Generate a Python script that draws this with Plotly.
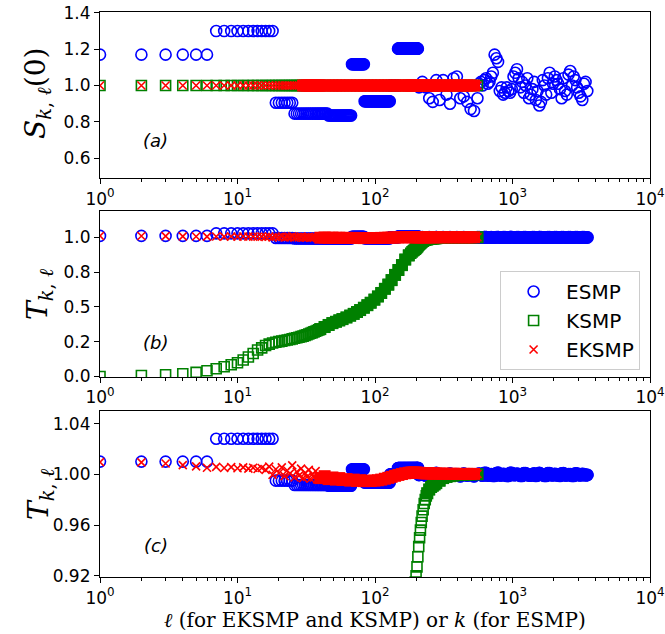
import plotly.graph_objects as go

# ---------------- data ----------------
# ESMP: index k ; k = 1..205 individually, then sampled k
esmp_k = list(range(1, 206)) + [
    209, 221, 234, 248, 263, 279, 295, 313, 331, 351, 372, 394, 417, 442, 468, 496, 525,
    556, 589, 624, 661, 700, 741, 785, 832, 881, 933, 988, 1047, 1109, 1175, 1245, 1318,
    1396, 1479, 1567, 1660, 1758, 1862, 1972, 2089, 2213, 2344, 2483, 2630, 2786, 2951,
    3126, 3311, 3500,
    572, 606, 642, 680, 720, 763, 808, 856, 907, 960, 1017, 1078, 1142, 1210, 1281, 1357,
    1437, 1522, 1612, 1708, 1809, 1916, 2030, 2150, 2277, 2412, 2555, 2707, 2867, 3037,
    3217, 3400]

# S_{k,l}(0) for ESMP (runs of constant value for k<=205, then scattered)
esmp_S = ([1.17] * 6 + [1.30] * 12 + [0.905] * 7 + [0.845] * 20 + [0.835] * 22 +
          [1.117] * 16 + [0.913] * 45 + [1.0] * 18 + [1.203] * 59) + [
    0.99, 1.02, 0.99, 0.93, 0.91, 1.03, 0.92, 1.03, 0.95, 0.90, 1.04, 1.05, 0.93, 0.94,
    0.91, 0.87, 0.86, 0.93, 1.02, 1.03, 1.01, 1.05, 1.17, 1.13, 0.99, 0.96, 0.97, 0.98,
    1.07, 1.04, 1.02, 1.00, 0.93, 0.98, 0.92, 0.89, 1.03, 0.95, 1.07, 1.01, 1.03, 0.98,
    1.04, 0.95, 1.08, 1.05, 0.99, 0.94, 1.01, 0.97,
    1.01, 1.00, 1.04, 1.02, 1.07, 1.15, 0.97, 0.95, 0.99, 0.96, 1.05, 1.09, 0.99, 0.96,
    1.04, 0.95, 1.02, 0.97, 0.91, 1.00, 1.04, 0.96, 1.05, 1.01, 0.93, 0.97, 1.06, 1.00,
    1.03, 0.96, 0.92, 1.02]

# T_{k,l} for ESMP
esmp_T = ([1.010] * 6 + [1.028] * 12 + [0.995] * 7 + [0.9915] * 20 + [0.991] * 22 +
          [1.004] * 16 + [0.9935] * 45 + [1.000] * 18 + [1.005] * 59) + [
    0.9995, 1.0005, 0.9990, 1.0000, 0.9985, 1.0010, 0.9990, 1.0000, 0.9985, 1.0005,
    0.9990, 1.0000, 0.9985, 1.0005, 0.9990, 0.9995, 0.9985, 1.0000, 0.9995, 1.0010,
    0.9990, 1.0000, 0.9988, 1.0012, 0.9992, 1.0000, 0.9988, 1.0010, 0.9995, 1.0000,
    0.9988, 1.0008, 0.9992, 1.0000, 0.9988, 1.0010, 0.9995, 0.9988, 1.0008, 0.9992,
    1.0000, 0.9988, 1.0008, 0.9992, 1.0000, 0.9988, 1.0005, 0.9992, 1.0000, 0.9995,
    1.0005, 0.9990, 1.0010, 0.9995, 0.9988, 1.0008, 0.9992, 1.0002, 0.9988, 1.0010,
    0.9994, 1.0004, 0.9988, 1.0008, 0.9995, 0.9990, 1.0006, 0.9992, 1.0003, 0.9988,
    1.0008, 0.9994, 1.0002, 0.9990, 1.0006, 0.9992, 1.0000, 0.9988, 1.0006, 0.9994,
    1.0002, 0.9992]

# KSMP / EKSMP: index l
ell = list(range(1, 41)) + [
    43, 46, 49, 52, 55, 58, 62, 66, 70, 74, 78, 83, 88, 93, 99, 105, 111, 118, 125, 132,
    140, 148, 157, 166, 176, 182, 186, 190, 193, 196, 199, 202, 205, 208, 211, 214, 217,
    220, 224, 228, 232, 236, 240, 248, 256, 263, 271, 279, 295, 313, 331, 351, 372, 394,
    417, 442, 468, 496, 525, 556]

ksmp_S = [1.0] * len(ell)
eksmp_S = [1.0] * len(ell)

ksmp_T = [
    0.000, 0.007, 0.012, 0.019, 0.029, 0.041, 0.055, 0.070, 0.084, 0.098,
    0.118, 0.140, 0.165, 0.190, 0.205, 0.222, 0.232, 0.240, 0.246, 0.250,
    0.254, 0.258, 0.262, 0.266, 0.270, 0.274, 0.278, 0.282, 0.286, 0.290,
    0.295, 0.300, 0.305, 0.310, 0.315, 0.320, 0.325, 0.330, 0.335, 0.340,
    0.355, 0.370, 0.383, 0.393, 0.403, 0.412, 0.424, 0.437, 0.450, 0.463,
    0.477, 0.494, 0.512, 0.530, 0.552, 0.575, 0.600, 0.630, 0.660, 0.692,
    0.730, 0.765, 0.800, 0.840, 0.870, 0.885, 0.895, 0.903, 0.909, 0.915,
    0.920, 0.927, 0.935, 0.943, 0.950, 0.956, 0.962, 0.967, 0.972, 0.977,
    0.980, 0.983, 0.985, 0.988, 0.990, 0.991, 0.992, 0.993, 0.995, 0.997,
    0.998, 0.9985, 0.999, 0.9993, 0.9995, 0.9997, 0.9998, 0.9999, 1.000, 1.000]

eksmp_T = [
    1.0096, 1.0094, 1.0085, 1.0072, 1.0062, 1.0052, 1.0058, 1.0050, 1.0056, 1.0048,
    1.0055, 1.0045, 1.0052, 1.0042, 1.0050, 1.0035, 1.0060, 0.9995, 1.0040, 1.0010,
    1.0055, 0.9985, 1.0030, 1.0005, 1.0070, 0.9975, 1.0020, 0.9990, 1.0045, 0.9970,
    1.0010, 0.9980, 1.0035, 0.9965, 1.0000, 0.9975, 1.0025, 0.9960, 0.9990, 0.9970,
    0.9985, 0.9962, 0.9975, 0.9958, 0.9970, 0.9955, 0.9962, 0.9950, 0.9958, 0.9948,
    0.9953, 0.9946, 0.9950, 0.9947, 0.9950, 0.9953, 0.9958, 0.9965, 0.9972, 0.9980,
    0.9988, 0.9995, 1.0002, 1.0008, 1.0012, 1.0013, 1.0013, 1.0013, 1.0013, 1.0012,
    1.0012, 1.0012, 1.0011, 1.0011, 1.0011, 1.0010, 1.0010, 1.0010, 1.0009, 1.0009,
    1.0009, 1.0008, 1.0008, 1.0008, 1.0007, 1.0007, 1.0006, 1.0006, 1.0005, 1.0005,
    1.0004, 1.0004, 1.0004, 1.0003, 1.0003, 1.0003, 1.0003, 1.0003, 1.0003, 1.0003]

series_names = ["ESMP", "KSMP", "EKSMP"]
x_tick_vals = [1, 10, 100, 1000, 10000]
x_tick_text = ["10<sup>0</sup>", "10<sup>1</sup>", "10<sup>2</sup>", "10<sup>3</sup>", "10<sup>4</sup>"]

# ---------------- styling ----------------
BLUE, GREEN, RED = "#0000ff", "#008000", "#ff0000"
CIRC = dict(symbol="circle-open", size=11, color=BLUE, line=dict(width=1.6, color=BLUE))
SQR = dict(symbol="square-open", size=10, color=GREEN, line=dict(width=1.6, color=GREEN))
XM = dict(symbol="x-thin-open", size=8, color=RED, line=dict(width=1.6, color=RED))

fig = go.Figure()


def sub(xs, ys, cond):
    px, py = [], []
    for a, b in zip(xs, ys):
        if cond(a):
            px.append(a)
            py.append(b)
    return px, py


def add(x, y, marker, axis, name=None, legend=False):
    fig.add_trace(go.Scatter(x=x, y=y, mode="markers", marker=marker, name=name,
                             showlegend=legend, xaxis="x" + axis, yaxis="y" + axis,
                             hoverinfo="skip"))


last_ell = ell[-1]
# panel (a)
add(esmp_k, esmp_S, CIRC, "")
add(ell, ksmp_S, SQR, "")
ux, uy = sub(ell, eksmp_S, lambda v: 30 <= v < last_ell)
add(ux, uy, dict(symbol="square", size=12, color=RED, line=dict(width=0)), "")
add(ell, eksmp_S, XM, "")

# panels (b) and (c) share the same T data
for ax, leg in (("2", True), ("3", False)):
    ux, uy = sub(esmp_k, esmp_T, lambda v: v >= 205)
    add(ux, uy, dict(symbol="circle", size=13, color=BLUE, line=dict(width=0)), ax)
    add(esmp_k, esmp_T, CIRC, ax, series_names[0], leg)
    ux, uy = sub(ell, ksmp_T, lambda v: 40 <= v <= 180 or v >= 240)
    add(ux, uy, dict(symbol="square", size=12, color=GREEN, line=dict(width=0)), ax)
    add(ell, ksmp_T, SQR, ax, series_names[1], leg)
    ux, uy = sub(ell, eksmp_T, lambda v: 40 <= v < last_ell)
    add(ux, uy, dict(symbol="square", size=12, color=RED, line=dict(width=0)), ax)
    add(ell, eksmp_T, XM, ax, series_names[2], leg)

tickfont = dict(family="DejaVu Sans", size=17, color="black")
minor_vals = [m * 10 ** e for e in range(0, 4) for m in range(2, 10)]
common = dict(showline=True, mirror=True, linecolor="black", linewidth=1.2,
              ticks="outside", ticklen=5, tickwidth=1.2, tickcolor="black",
              showgrid=False, zeroline=False, tickfont=tickfont, automargin=False,
              ticklabeloverflow="allow")


def xax(anchor):
    return dict(common, type="log", range=[0, 4], tickmode="array", tickvals=x_tick_vals,
                ticktext=x_tick_text, anchor=anchor, domain=[0, 1],
                minor=dict(ticks="outside", ticklen=3, tickwidth=1, tickcolor="black",
                           tickmode="array", tickvals=minor_vals))


fig.update_layout(
    width=665, height=634,
    margin=dict(l=100, r=15, t=12, b=57, autoexpand=False),
    paper_bgcolor="white", plot_bgcolor="white",
    xaxis=xax("y"), xaxis2=xax("y2"), xaxis3=xax("y3"),
    yaxis=dict(common, domain=[0.706, 1.0], anchor="x", range=[0.49, 1.405],
               tickmode="array", tickvals=[0.6, 0.8, 1.0, 1.2, 1.4],
               ticktext=["0.6", "0.8", "1.0", "1.2", "1.4"]),
    yaxis2=dict(common, domain=[0.354, 0.648], anchor="x2", range=[-0.004, 1.19],
                tickmode="array", tickvals=[0.0, 0.25, 0.5, 0.75, 1.0],
                ticktext=["0.0", "0.2", "0.5", "0.8", "1.0"]),
    yaxis3=dict(common, domain=[0.0, 0.294], anchor="x3", range=[0.919, 1.05],
                tickmode="array", tickvals=[0.92, 0.96, 1.00, 1.04],
                ticktext=["0.92", "0.96", "1.00", "1.04"]),
    legend=dict(x=0.982, y=0.5416, xanchor="right", yanchor="top",
                bgcolor="white", bordercolor="#cccccc", borderwidth=1,
                font=dict(family="DejaVu Sans", size=20, color="black"),
                itemwidth=55, tracegroupgap=0),
    showlegend=True,
)

ann_font = dict(family="DejaVu Sans", size=18, color="black")
for lab, yy in (("<i>(a)</i>", 0.7717), ("<i>(b)</i>", 0.4142), ("<i>(c)</i>", 0.0566)):
    fig.add_annotation(x=0.1018, y=yy, xref="paper", yref="paper", text=lab,
                       showarrow=False, font=ann_font, xanchor="center", yanchor="middle")

title_font = dict(family="DejaVu Serif", size=28, color="black")
fig.add_annotation(x=-0.1127, y=0.8549, xref="paper", yref="paper",
                   text="<i>S</i><sub><i>k</i>, <i>ℓ</i></sub>(0)", textangle=-90,
                   showarrow=False, font=title_font, xanchor="center", yanchor="middle")
for yy in (0.5009, 0.1469):
    fig.add_annotation(x=-0.109, y=yy, xref="paper", yref="paper",
                       text="<i>T</i><sub><i>k</i>, <i>ℓ</i></sub>", textangle=-90,
                       showarrow=False, font=title_font, xanchor="center", yanchor="middle")

fig.add_annotation(x=0.5, y=-0.0761, xref="paper", yref="paper",
                   text="<i>ℓ</i> (for EKSMP and KSMP) or <i>k</i> (for ESMP)",
                   showarrow=False, font=dict(family="DejaVu Serif", size=20, color="black"),
                   xanchor="center", yanchor="middle")

# remove the page's default 8 px body margin so the figure sits at the window corner
fig.write_html("out.html",
               config={"displayModeBar": False},
               post_script="document.body.style.margin='0';document.body.style.overflow='hidden';")
